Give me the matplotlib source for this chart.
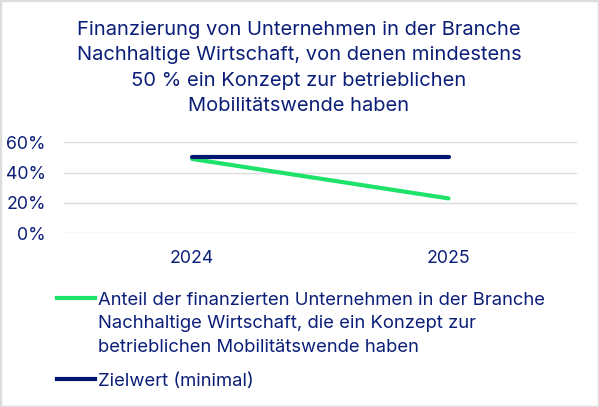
import matplotlib.pyplot as plt
from matplotlib.patches import Rectangle
from matplotlib.lines import Line2D

years = ["2024", "2025"]
anteil = [49, 23]
zielwert = [50, 50]
yticks = [0, 20, 40, 60]

title_lines = ["Finanzierung von Unternehmen in der Branche",
               "Nachhaltige Wirtschaft, von denen mindestens",
               "50 % ein Konzept zur betrieblichen",
               "Mobilitätswende haben"]
label_anteil = ["Anteil der finanzierten Unternehmen in der Branche",
                "Nachhaltige Wirtschaft, die ein Konzept zur",
                "betrieblichen Mobilitätswende haben"]
label_ziel = ["Zielwert (minimal)"]

navy = "#0c1f78"
line_navy = "#001670"
green = "#1ee36a"
grid = "#dcdcdc"

plt.rcParams['font.family'] = ['Inter', 'DejaVu Sans']

W, H = 599, 407
fig = plt.figure(figsize=(W / 100, H / 100), dpi=100)
fig.patch.set_facecolor("white")
fig.patches.append(Rectangle((0, 0), 1, 1, transform=fig.transFigure,
                             fill=False, edgecolor="#dddddd", linewidth=2.5))

# title, one line at a time (pixel baselines from the top)
for i, line in enumerate(title_lines):
    fig.text(299 / W, 1 - (35 + 25.3 * i) / H, line, ha="center",
             va="baseline", color=navy, fontsize=14.5)

ax = fig.add_axes([64 / W, 0.4268, (576.7 - 64) / W, 0.6504 - 0.4268])
x = [0, 1]
ax.plot(x, anteil, color=green, linewidth=3, solid_capstyle="round", zorder=3)
ax.plot(x, zielwert, color=line_navy, linewidth=3, solid_capstyle="round", zorder=4)
ax.set_xlim(-0.5, 1.5)
ax.set_ylim(0, 60)
ax.set_yticks(yticks)
ax.set_yticklabels([f"{v}%" for v in yticks])
ax.set_xticks(x)
ax.set_xticklabels(years)
ax.grid(axis="y", color=grid, linewidth=1)
ax.set_axisbelow(True)
for s in ax.spines.values():
    s.set_visible(False)
ax.tick_params(length=0, colors=navy, labelsize=12.8)
ax.tick_params(axis="y", pad=13)
ax.tick_params(axis="x", pad=12)

# legend, drawn by hand so the key sits on the first text line
entries = [(green, label_anteil, 298), (line_navy, label_ziel, 379)]
for color, lines, ykey in entries:
    fig.add_artist(Line2D([57 / W, 95 / W], [1 - ykey / H, 1 - ykey / H],
                          color=color, linewidth=3, transform=fig.transFigure))
    for j, line in enumerate(lines):
        fig.text(98 / W, 1 - (ykey + 7 + 23.5 * j) / H, line, ha="left",
                 va="baseline", color=navy, fontsize=13.3)

fig.savefig("out.png", dpi=100)
